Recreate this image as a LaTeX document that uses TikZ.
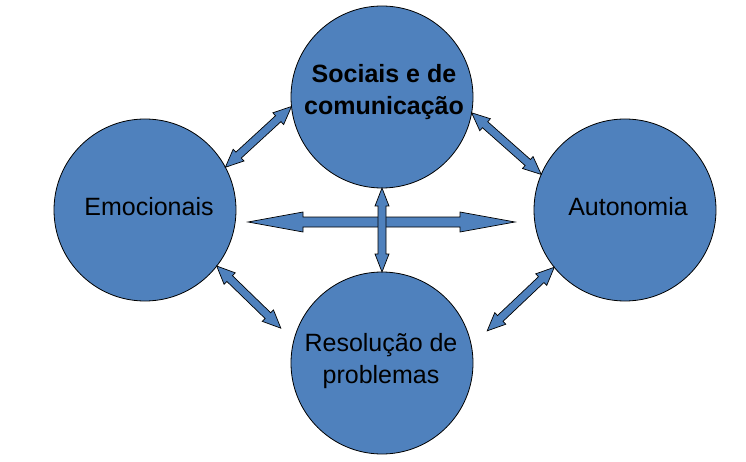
\documentclass[tikz,border=0pt]{standalone}
\usepackage{fontspec}
\setmainfont{Liberation Sans}
\usetikzlibrary{calc}

\definecolor{areablue}{HTML}{4F81BD}

\tikzset{
  area/.style={circle, draw=black, line width=0.8pt, fill=areablue,
    minimum size=182pt, inner sep=0pt, outer sep=0pt},
  lbl/.style={font=\fontsize{25}{32}\selectfont, align=center, inner sep=0pt},
  blockarrow/.style={draw=black, line width=0.7pt, fill=areablue, line join=miter},
}

% double block arrow: from, to, shaft half width, head half width, head length
\newcommand{\dblarrow}[5]{%
  \coordinate (ha) at ($(#1)!#5!(#2)$);
  \coordinate (hb) at ($(#2)!#5!(#1)$);
  \draw[blockarrow] (#1) -- ($(ha)!#4!90:(#2)$) -- ($(ha)!#3!90:(#2)$)
    -- ($(hb)!#3!-90:(#1)$) -- ($(hb)!#4!-90:(#1)$) -- (#2)
    -- ($(hb)!#4!90:(#1)$) -- ($(hb)!#3!90:(#1)$)
    -- ($(ha)!#3!-90:(#2)$) -- ($(ha)!#4!-90:(#2)$) -- cycle;
}

\begin{document}
\begin{tikzpicture}[x=1pt, y=1pt]
  \useasboundingbox (0,0) rectangle (746,461);

  % The four areas
  \node[area] (soc) at (382,364) {};
  \node[area] (emo) at (145,251) {};
  \node[area] (aut) at (625,251) {};
  \node[area] (res) at (382,98) {};

  % Labels
  \node[lbl, font=\fontsize{25}{32}\selectfont\bfseries] (soc-t) at (384,368.5) {Sociais e de\\comunicação};
  \node[lbl, anchor=base] (emo-t) at (149,246) {Emocionais};
  \node[lbl, anchor=base] (aut-t) at (628,246) {Autonomia};
  \node[lbl] (res-t) at (381,100) {Resolução de\\problemas};

  % Free ends of the arrows
  \coordinate (hl) at (248,239);
  \coordinate (hr) at (515,239);
  \coordinate (resl) at ($(res)+(161:107)$);
  \coordinate (resr) at ($(res)+(17:110)$);

  % Cross in the middle
  \dblarrow{hl}{hr}{5pt}{10pt}{55pt}
  \dblarrow{soc.south}{res.north}{4pt}{7pt}{18pt}

  % Links round the ring
  \dblarrow{emo.28}{soc.186}{4pt}{8pt}{18pt}
  \dblarrow{soc.-10}{aut.157}{4pt}{8pt}{18pt}
  \dblarrow{emo.-38}{resl}{4pt}{8pt}{18pt}
  \dblarrow{aut.219}{resr}{4pt}{8pt}{18pt}
\end{tikzpicture}
\end{document}
